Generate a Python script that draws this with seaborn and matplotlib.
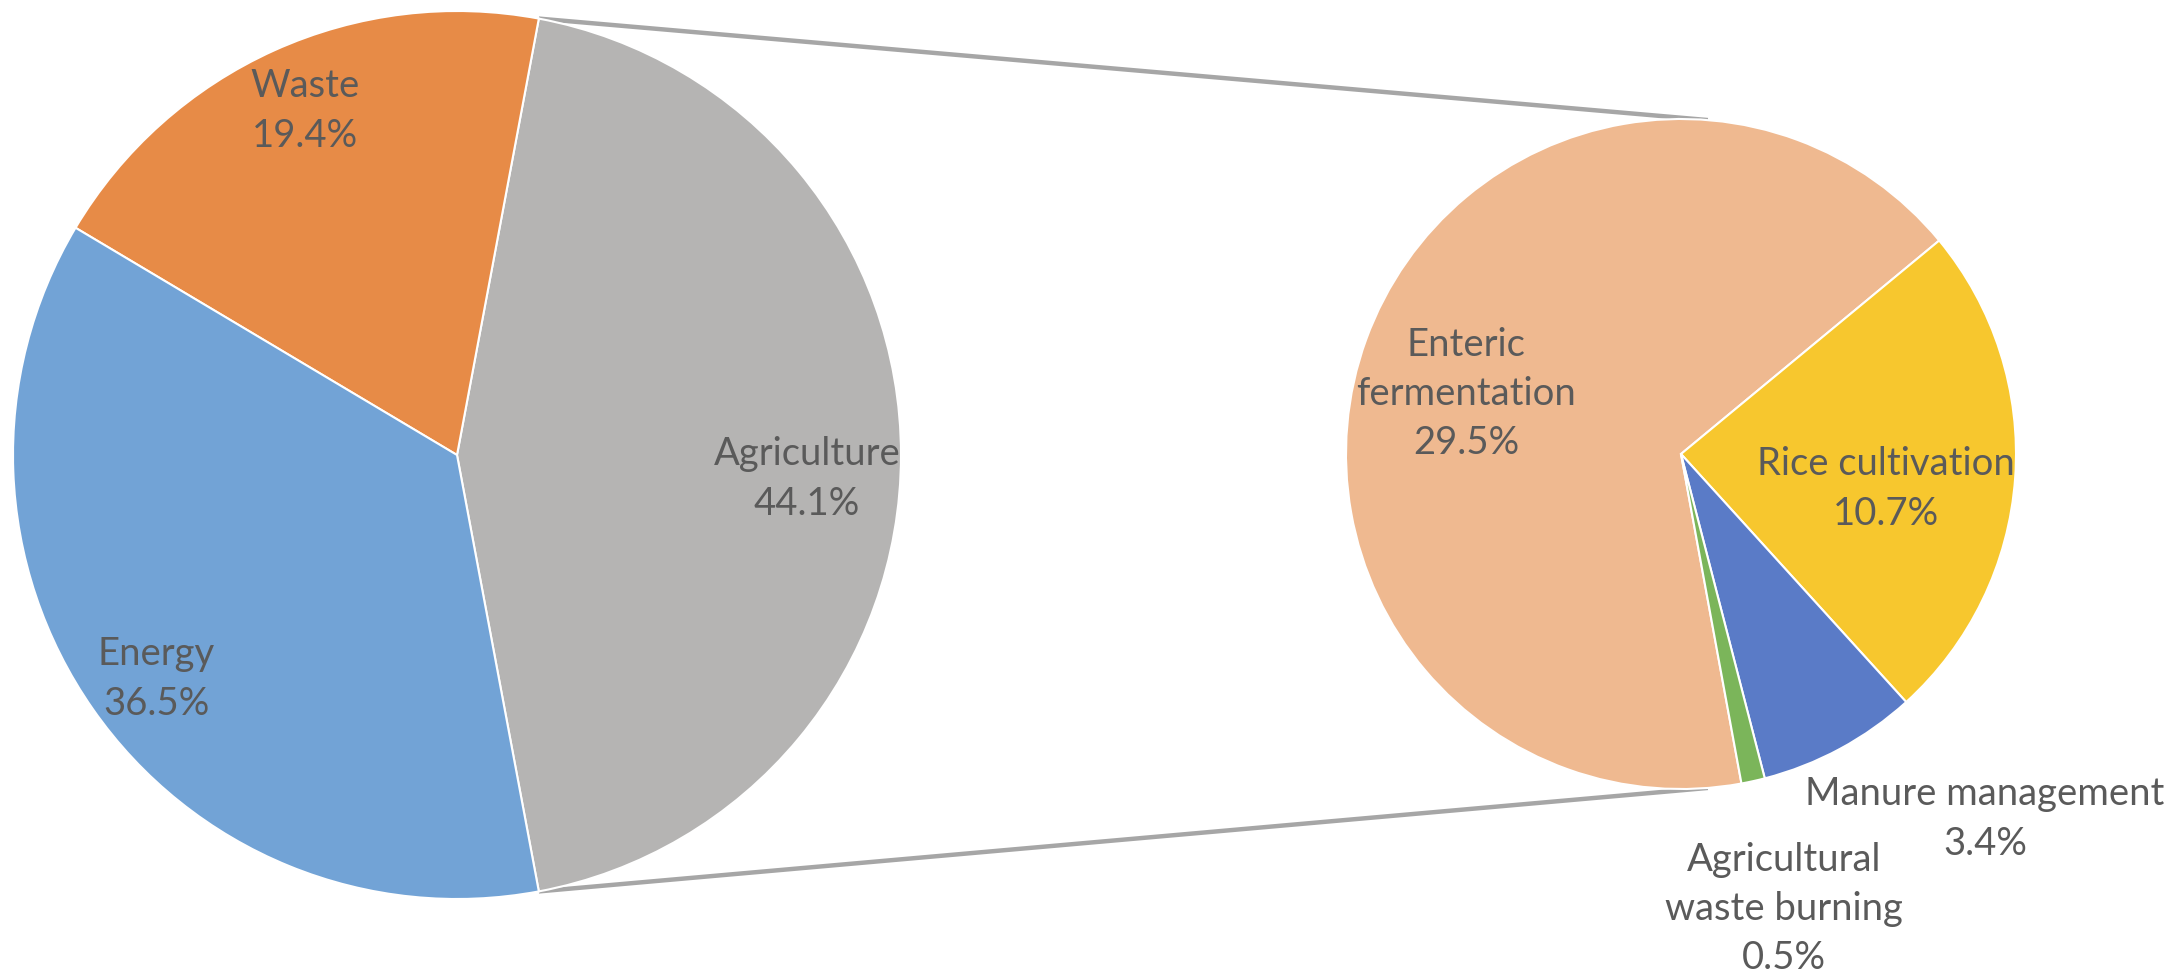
import matplotlib
matplotlib.use("Agg")
import matplotlib.pyplot as plt
import seaborn as sns
import numpy as np

# Methane emissions by sector (%), with agriculture broken down
sectors = ["Agriculture", "Waste", "Energy"]
sector_shares = [44.1, 19.4, 36.5]
sector_colors = ["#b5b4b3", "#e78b47", "#72a3d6"]

agri_sources = ["Enteric\nfermentation", "Rice cultivation", "Manure management",
                "Agricultural\nwaste burning"]
agri_shares = [29.5, 10.7, 3.4, 0.5]
agri_colors = ["#efb990", "#f7c72e", "#5a7bc7", "#7bb55a"]

sns.set_theme(style="white")
plt.rcParams["font.family"] = ["Lato", "DejaVu Sans"]

W, H = 2177, 977
fig = plt.figure(figsize=(W / 100, H / 100), dpi=100)
ax = fig.add_axes([0, 0, 1, 1])

text_color = "#5a5a5a"
edge = dict(edgecolor="white", linewidth=1.5)

# main pie: agriculture centred on the right-hand side
c1, r1 = (457, 522), 444
agri_half = 360 * sector_shares[0] / sum(sector_shares) / 2
ax.pie(sector_shares, colors=sector_colors, center=c1, radius=r1,
       startangle=-agri_half, counterclock=True, wedgeprops=edge)

# secondary pie: agriculture split, drawn clockwise
c2, r2 = (1681, 523), 335
ax.pie(agri_shares, colors=agri_colors, center=c2, radius=r2,
       startangle=-79.6, counterclock=False, wedgeprops=edge)

# connector lines between the two pies
for sgn in (1, -1):
    a1 = np.deg2rad(sgn * agri_half)
    a2 = np.deg2rad(sgn * 85.4)
    p1 = (c1[0] + r1 * np.cos(a1), c1[1] + r1 * np.sin(a1))
    p2 = (c2[0] + r2 * np.cos(a2), c2[1] + r2 * np.sin(a2))
    ax.plot([p1[0], p2[0]], [p1[1], p2[1]], color="#a6a6a6", lw=3.2,
            solid_capstyle="butt", zorder=0)

lab = dict(ha="center", va="center", multialignment="center",
           color=text_color, fontsize=27.5, linespacing=1.45)

main_pos = {"Agriculture": (807, 498), "Waste": (305, 866), "Energy": (156, 298)}
for name, v in zip(sectors, sector_shares):
    ax.text(*main_pos[name], f"{name}\n{v}%", **lab)

agri_pos = [(1466, 583), (1886, 488), (1985, 158), (1784, 68)]
for name, v, pos in zip(agri_sources, agri_shares, agri_pos):
    ax.text(*pos, f"{name}\n{v}%", **lab)

ax.set_xlim(0, W)
ax.set_ylim(0, H)
ax.set_aspect("equal")
ax.axis("off")

fig.savefig("out.png", dpi=100, facecolor="white")
